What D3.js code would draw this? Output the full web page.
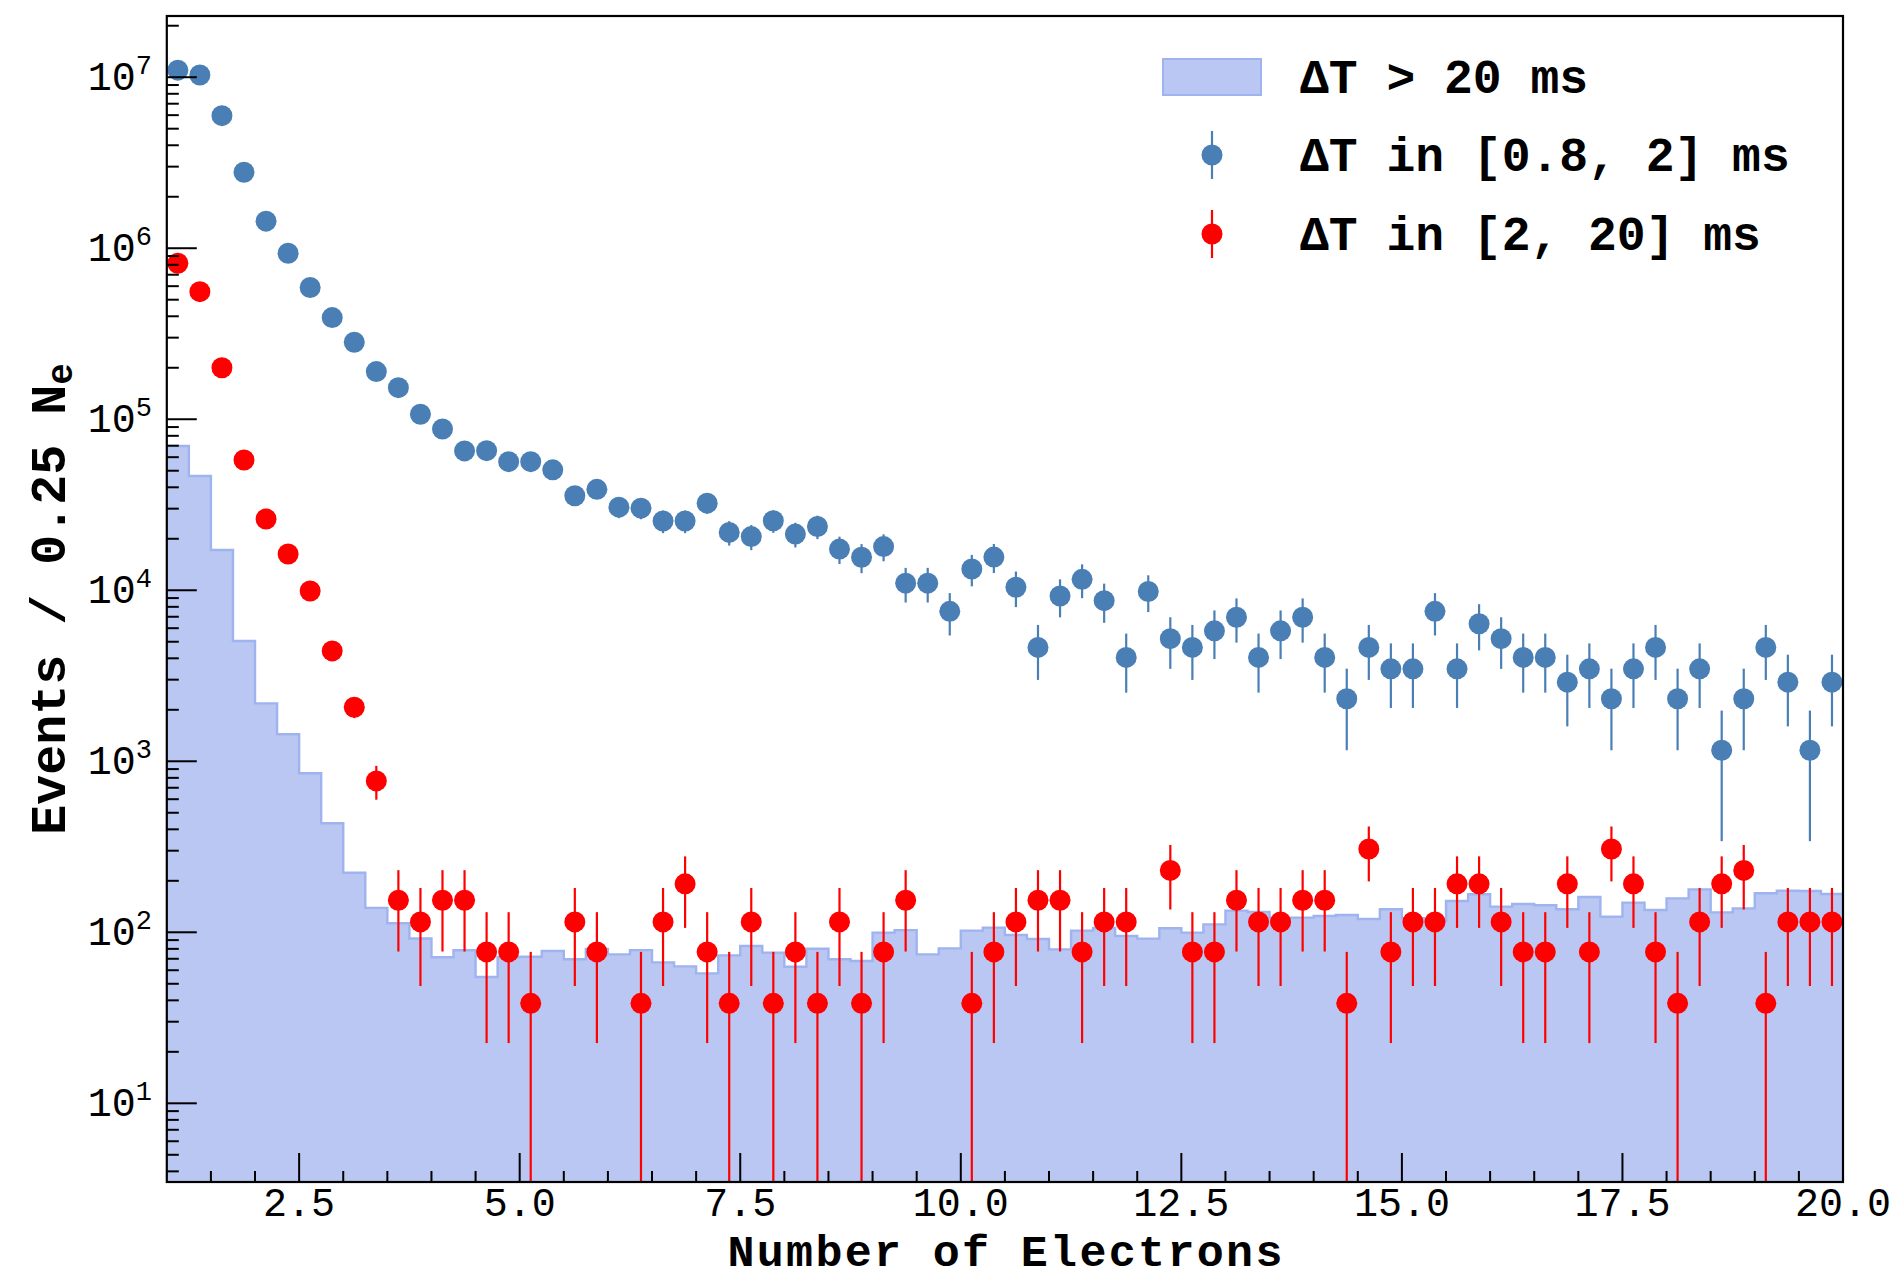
<!DOCTYPE html>
<html><head><meta charset="utf-8">
<script src="https://cdn.jsdelivr.net/npm/d3@7"></script>
<style>body{margin:0;background:#fff}</style>
</head><body>
<svg id="chart" width="1895" height="1280"></svg>
<script>
// ---------- data ----------
const binStart = 1.0, binWidth = 0.25;
const histValues = [69800, 46600, 17200, 5050, 2180, 1440, 851, 434, 223, 139,
 113, 92, 71.5, 78.5, 54.8, 71.5, 72, 77.8, 69.5, 80,
 74.3, 78.7, 66.7, 63.2, 57.5, 73.3, 83.2, 76, 62.9, 80.2,
 69.5, 67.9, 99.5, 103, 74.3, 80.5, 102.3, 106.5, 96.4, 91.4,
 79.4, 102.3, 106, 95.1, 91.8, 105.5, 99.5, 111.3, 133.9, 131.5,
 121.8, 121.8, 124.5, 126.2, 119.6, 136.3, 120.8, 117, 152.5, 166.8,
 141.3, 146.5, 143.9, 136.3, 160.8, 123.3, 149, 135, 157.8, 178.2,
 130.8, 138, 169, 175.1, 174.5, 167.5];
const blueValues = [1.1e7, 1.03e7, 5.96e6, 2.78e6, 1.44e6, 9.35e5, 5.89e5, 3.93e5, 2.82e5, 1.90e5,
 1.53e5, 1.07e5, 8.77e4, 6.53e4, 6.55e4, 5.65e4, 5.65e4, 5.06e4, 3.57e4, 3.89e4,
 3.06e4, 3.02e4, 2.54e4, 2.54e4, 3.23e4, 2.18e4, 2.06e4, 2.55e4, 2.13e4, 2.36e4,
 1.74e4, 1.56e4, 1.80e4, 11000, 11000, 7530, 13320, 15630, 10420, 4630,
 9260, 11580, 8690, 4050, 9840, 5210, 4630, 5790, 6950, 4050,
 5790, 6950, 4050, 2320, 4630, 3470, 3470, 7530, 3470, 6370,
 5210, 4050, 4050, 2900, 3470, 2320, 3470, 4630, 2320, 3470,
 1160, 2320, 4630, 2900, 1160, 2900];
const blueErrors = [79800, 77200, 58700, 40100, 28900, 23300, 18500, 15100, 12800, 10500,
 9410, 7870, 7130, 6150, 6160, 5720, 5720, 5410, 4550, 4750,
 4210, 4180, 3830, 3830, 4320, 3550, 3450, 3840, 3510, 3700,
 3170, 3010, 3230, 2520, 2520, 2090, 2780, 3010, 2450, 1640,
 2320, 2590, 2240, 1530, 2390, 1740, 1640, 1830, 2010, 1530,
 1830, 2010, 1530, 1160, 1640, 1420, 1420, 2090, 1420, 1920,
 1740, 1530, 1530, 1300, 1420, 1160, 1420, 1640, 1160, 1420,
 819, 1160, 1640, 1300, 819, 1300];
const redValues = [8.17e5, 5.57e5, 2.0e5, 5.78e4, 2.61e4, 1.63e4, 9900, 4420, 2070, 768,
 154, 115, 154, 154, 76.8, 76.8, 38.4, null, 115, 76.8,
 null, 38.4, 115, 192, 76.8, 38.4, 115, 38.4, 76.8, 38.4,
 115, 38.4, 76.8, 154, null, null, 38.4, 76.8, 115, 154,
 154, 76.8, 115, 115, null, 230, 76.8, 76.8, 154, 115,
 115, 154, 154, 38.4, 307, 76.8, 115, 115, 192, 192,
 115, 76.8, 76.8, 192, 76.8, 307, 192, 76.8, 38.4, 115,
 192, 230, 38.4, 115, 115, 115];
const redErrors = [5600, 4630, 2770, 1490, 1000, 791, 617, 412, 282, 172,
 76.8, 66.5, 76.8, 76.8, 54.3, 54.3, 38.4, null, 66.5, 54.3,
 null, 38.4, 66.5, 85.9, 54.3, 38.4, 66.5, 38.4, 54.3, 38.4,
 66.5, 38.4, 54.3, 76.8, null, null, 38.4, 54.3, 66.5, 76.8,
 76.8, 54.3, 66.5, 66.5, null, 94.1, 54.3, 54.3, 76.8, 66.5,
 66.5, 76.8, 76.8, 38.4, 108.6, 54.3, 66.5, 66.5, 85.9, 85.9,
 66.5, 54.3, 54.3, 85.9, 54.3, 108.6, 85.9, 54.3, 38.4, 66.5,
 85.9, 94.1, 38.4, 66.5, 66.5, 66.5];
const xMajorTicks = [2.5, 5, 7.5, 10, 12.5, 15, 17.5, 20];
const xTickLabels = ["2.5", "5.0", "7.5", "10.0", "12.5", "15.0", "17.5", "20.0"];
const yTickExponents = [1, 2, 3, 4, 5, 6, 7];
const legendLabels = ["ΔT > 20 ms", "ΔT in [0.8, 2] ms", "ΔT in [2, 20] ms"];
const xLabel = "Number of Electrons";

// ---------- styles ----------
const histFill = "#b9c7f2", histEdge = "#9fb3ee";
const blueColor = "#4a7fb5", redColor = "#ff0000";
const FONT = "'Liberation Mono', 'Courier New', monospace";
const MARKER_R = 10.5;

// ---------- layout ----------
const L = 166.8, R = 1843, T = 16, B = 1182;
const x = d3.scaleLinear().domain([1, 20]).range([L, R]);
const y = d3.scaleLog().domain([3.466, 2.28e7]).range([B, T]);

const svg = d3.select("#chart");
svg.append("rect").attr("width", 1895).attr("height", 1280).attr("fill", "#fff");
svg.append("defs").append("clipPath").attr("id", "plotclip")
  .append("rect").attr("x", L).attr("y", T).attr("width", R - L).attr("height", B - T);

const plot = svg.append("g").attr("clip-path", "url(#plotclip)");

// histogram (step filled)
const steps = histValues.map((v, i) => ({ e: binStart + i * binWidth, v }));
steps.push({ e: binStart + histValues.length * binWidth, v: histValues[histValues.length - 1] });
plot.append("path").datum(steps)
  .attr("d", d3.area().x(d => x(d.e)).y0(B + 5).y1(d => y(d.v)).curve(d3.curveStepAfter))
  .attr("fill", histFill);
plot.append("path").datum(steps)
  .attr("d", d3.line().x(d => x(d.e)).y(d => y(d.v)).curve(d3.curveStepAfter))
  .attr("fill", "none").attr("stroke", histEdge).attr("stroke-width", 2.4);

function drawPoints(values, errors, color) {
  const pts = values.map((v, i) => ({ c: binStart + (i + 0.5) * binWidth, v, e: errors[i] }))
    .filter(d => d.v != null);
  const g = plot.append("g");
  g.selectAll("line").data(pts).join("line")
    .attr("x1", d => x(d.c)).attr("x2", d => x(d.c))
    .attr("y1", d => y(d.v + d.e))
    .attr("y2", d => (d.v - d.e > 0 ? y(d.v - d.e) : B + 5))
    .attr("stroke", color).attr("stroke-width", 2.2);
  g.selectAll("circle").data(pts).join("circle")
    .attr("cx", d => x(d.c)).attr("cy", d => y(d.v)).attr("r", MARKER_R)
    .attr("fill", color);
}
drawPoints(blueValues, blueErrors, blueColor);
drawPoints(redValues, redErrors, redColor);

// ---------- axes ----------
const axes = svg.append("g").attr("stroke", "#000").attr("stroke-width", 2);
const xMinor = d3.range(3, 40).map(k => k * 0.5).filter(v => !xMajorTicks.includes(v));
axes.selectAll(".xmin").data(xMinor).join("line")
  .attr("x1", d => x(d)).attr("x2", d => x(d)).attr("y1", B).attr("y2", B - 11);
axes.selectAll(".xmaj").data(xMajorTicks).join("line")
  .attr("x1", d => x(d)).attr("x2", d => x(d)).attr("y1", B).attr("y2", B - 29);
const yMinor = [];
for (let e = 0; e <= 7; e++) for (let m = 2; m <= 9; m++) {
  const v = m * Math.pow(10, e);
  if (v > y.domain()[0] && v < y.domain()[1]) yMinor.push(v);
}
axes.selectAll(".ymin").data(yMinor).join("line")
  .attr("x1", L).attr("x2", L + 12).attr("y1", d => y(d)).attr("y2", d => y(d));
axes.selectAll(".ymaj").data(yTickExponents).join("line")
  .attr("x1", L).attr("x2", L + 30).attr("y1", d => y(Math.pow(10, d))).attr("y2", d => y(Math.pow(10, d)));
svg.append("rect").attr("x", L).attr("y", T).attr("width", R - L).attr("height", B - T)
  .attr("fill", "none").attr("stroke", "#000").attr("stroke-width", 2.2);

// x tick labels
svg.append("g").selectAll("text").data(xMajorTicks).join("text")
  .attr("x", d => x(d)).attr("y", 1216).attr("text-anchor", "middle")
  .attr("font-family", FONT).attr("font-size", 40).attr("fill", "#000")
  .text((d, i) => xTickLabels[i]);

// y tick labels
const yl = svg.append("g").selectAll("text").data(yTickExponents).join("text")
  .attr("x", 152).attr("y", d => y(Math.pow(10, d)) + 12.5).attr("text-anchor", "end")
  .attr("font-family", FONT).attr("font-size", 40).attr("fill", "#000");
yl.append("tspan").text("10");
yl.append("tspan").attr("dy", -16).attr("font-size", 27).text(d => d);

// axis titles
svg.append("text").attr("x", (L + R) / 2).attr("y", 1266).attr("text-anchor", "middle")
  .attr("font-family", FONT).attr("font-size", 45).attr("font-weight", "bold")
  .attr("textLength", 555).attr("lengthAdjust", "spacing").text(xLabel);
const yt = svg.append("text").attr("transform", `translate(65,${(T + B) / 2}) rotate(-90)`)
  .attr("text-anchor", "middle").attr("font-family", FONT).attr("font-size", 50).attr("font-weight", "bold");
yt.append("tspan").text("Events / 0.25 N");
yt.append("tspan").attr("dy", 7).attr("font-size", 36).text("e");

// ---------- legend ----------
const lg = svg.append("g");
const rowY = [77, 155, 234];
lg.append("rect").attr("x", 1163).attr("y", 59).attr("width", 98).attr("height", 36)
  .attr("fill", histFill).attr("stroke", histEdge).attr("stroke-width", 2);
[[blueColor, 1], [redColor, 2]].forEach(([c, r]) => {
  lg.append("line").attr("x1", 1212).attr("x2", 1212).attr("y1", rowY[r] - 24).attr("y2", rowY[r] + 24)
    .attr("stroke", c).attr("stroke-width", 2.2);
  lg.append("circle").attr("cx", 1212).attr("cy", rowY[r]).attr("r", MARKER_R).attr("fill", c);
});
lg.selectAll("text").data(legendLabels).join("text")
  .attr("x", 1300).attr("y", (d, i) => rowY[i] + 16)
  .attr("font-family", FONT).attr("font-size", 48).attr("font-weight", "bold").attr("fill", "#000")
  .text(d => d);
</script>
</body></html>
